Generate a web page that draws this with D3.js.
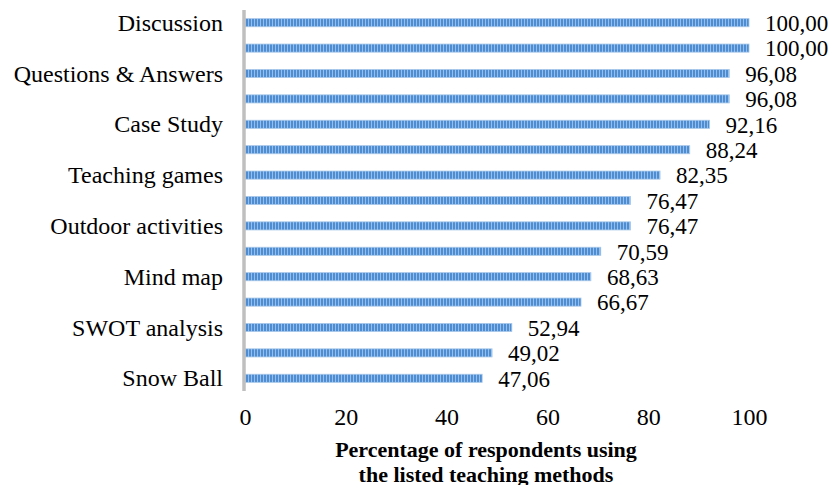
<!DOCTYPE html>
<html>
<head>
<meta charset="utf-8">
<script src="https://cdn.jsdelivr.net/npm/d3@7"></script>
<style>
  html, body { margin: 0; padding: 0; background: #fff; }
  svg { display: block; }
  svg text { font-family: "Liberation Serif", "Times New Roman", Times, serif; }
</style>
</head>
<body>
<svg id="chart" width="832" height="485"></svg>
<script>
// Teaching methods, top to bottom; only every other row carries a visible name
const methodLabels = [
  "Discussion", "", "Questions & Answers", "", "Case Study", "",
  "Teaching games", "", "Outdoor activities", "", "Mind map", "",
  "SWOT analysis", "", "Snow Ball"
];
// Percentage of respondents using each method
const percentages = [
  100.00, 100.00, 96.08, 96.08, 92.16, 88.24, 82.35, 76.47,
  76.47, 70.59, 68.63, 66.67, 52.94, 49.02, 47.06
];
const xTicks = [0, 20, 40, 60, 80, 100];
const titleLines = ["Percentage of respondents using", "the listed teaching methods"];

const svg = d3.select("#chart");
const FONT = '"Liberation Serif", "Times New Roman", Times, serif';

const rows = percentages.map((v, i) => ({ i, label: methodLabels[i], value: v }));

const x = d3.scaleLinear().domain([0, 100]).range([245, 749]);
const y = d3.scaleBand().domain(rows.map(d => d.i)).range([10, 391]).paddingInner(0.68).paddingOuter(0.34);

// Striped fill for the bars
const defs = svg.append("defs");
const pat = defs.append("pattern")
  .attr("id", "stripes")
  .attr("patternUnits", "userSpaceOnUse")
  .attr("width", 3).attr("height", 20);
pat.append("rect").attr("width", 3).attr("height", 20).attr("fill", "#4f8dd2");
pat.append("rect").attr("x", 2).attr("width", 1).attr("height", 20).attr("fill", "#93bfea");

// Bars
svg.append("g").selectAll("rect")
  .data(rows)
  .join("rect")
  .attr("x", x(0))
  .attr("y", d => y(d.i))
  .attr("width", d => x(d.value) - x(0))
  .attr("height", y.bandwidth())
  .attr("fill", "url(#stripes)")
  .attr("stroke", "#a8c8ea")
  .attr("stroke-width", 0.8);

// Value labels
svg.append("g").selectAll("text")
  .data(rows)
  .join("text")
  .attr("x", d => x(d.value) + 16)
  .attr("y", d => y(d.i) + y.bandwidth() / 2)
  .attr("dy", "0.36em")
  .style("font-family", FONT)
  .attr("font-size", 23)
  .attr("fill", "#000")
  .text(d => d3.format(".2f")(d.value).replace(".", ","));

// Category axis (left)
const yAxis = svg.append("g")
  .attr("transform", "translate(244,0)")
  .call(d3.axisLeft(y).tickSize(0).tickPadding(21).tickFormat(i => methodLabels[i]));
yAxis.attr("font-family", null).attr("font-size", null);
yAxis.select(".domain")
  .attr("d", "M0,10V391")
  .attr("stroke", "#bfbfbf")
  .attr("stroke-width", 3.5);
yAxis.selectAll("text")
  .style("font-family", FONT)
  .attr("font-size", 24)
  .attr("fill", "#000")
  .attr("dy", "0.34em");

// Value axis (bottom): labels only
const xAxis = svg.append("g")
  .attr("transform", "translate(0,403)")
  .call(d3.axisBottom(x).tickValues(xTicks).tickSize(0).tickPadding(0).tickFormat(d3.format("d")));
xAxis.attr("font-family", null).attr("font-size", null);
xAxis.select(".domain").remove();
xAxis.selectAll("text")
  .style("font-family", FONT)
  .attr("font-size", 24)
  .attr("fill", "#000")
  .attr("dy", "0.92em");

// Axis title
svg.append("text")
  .style("font-family", FONT)
  .attr("font-size", 22)
  .attr("font-weight", "bold")
  .attr("text-anchor", "middle")
  .selectAll("tspan")
  .data(titleLines)
  .join("tspan")
  .attr("x", 486)
  .attr("y", (d, i) => 457 + i * 25)
  .text(d => d);
</script>
</body>
</html>
